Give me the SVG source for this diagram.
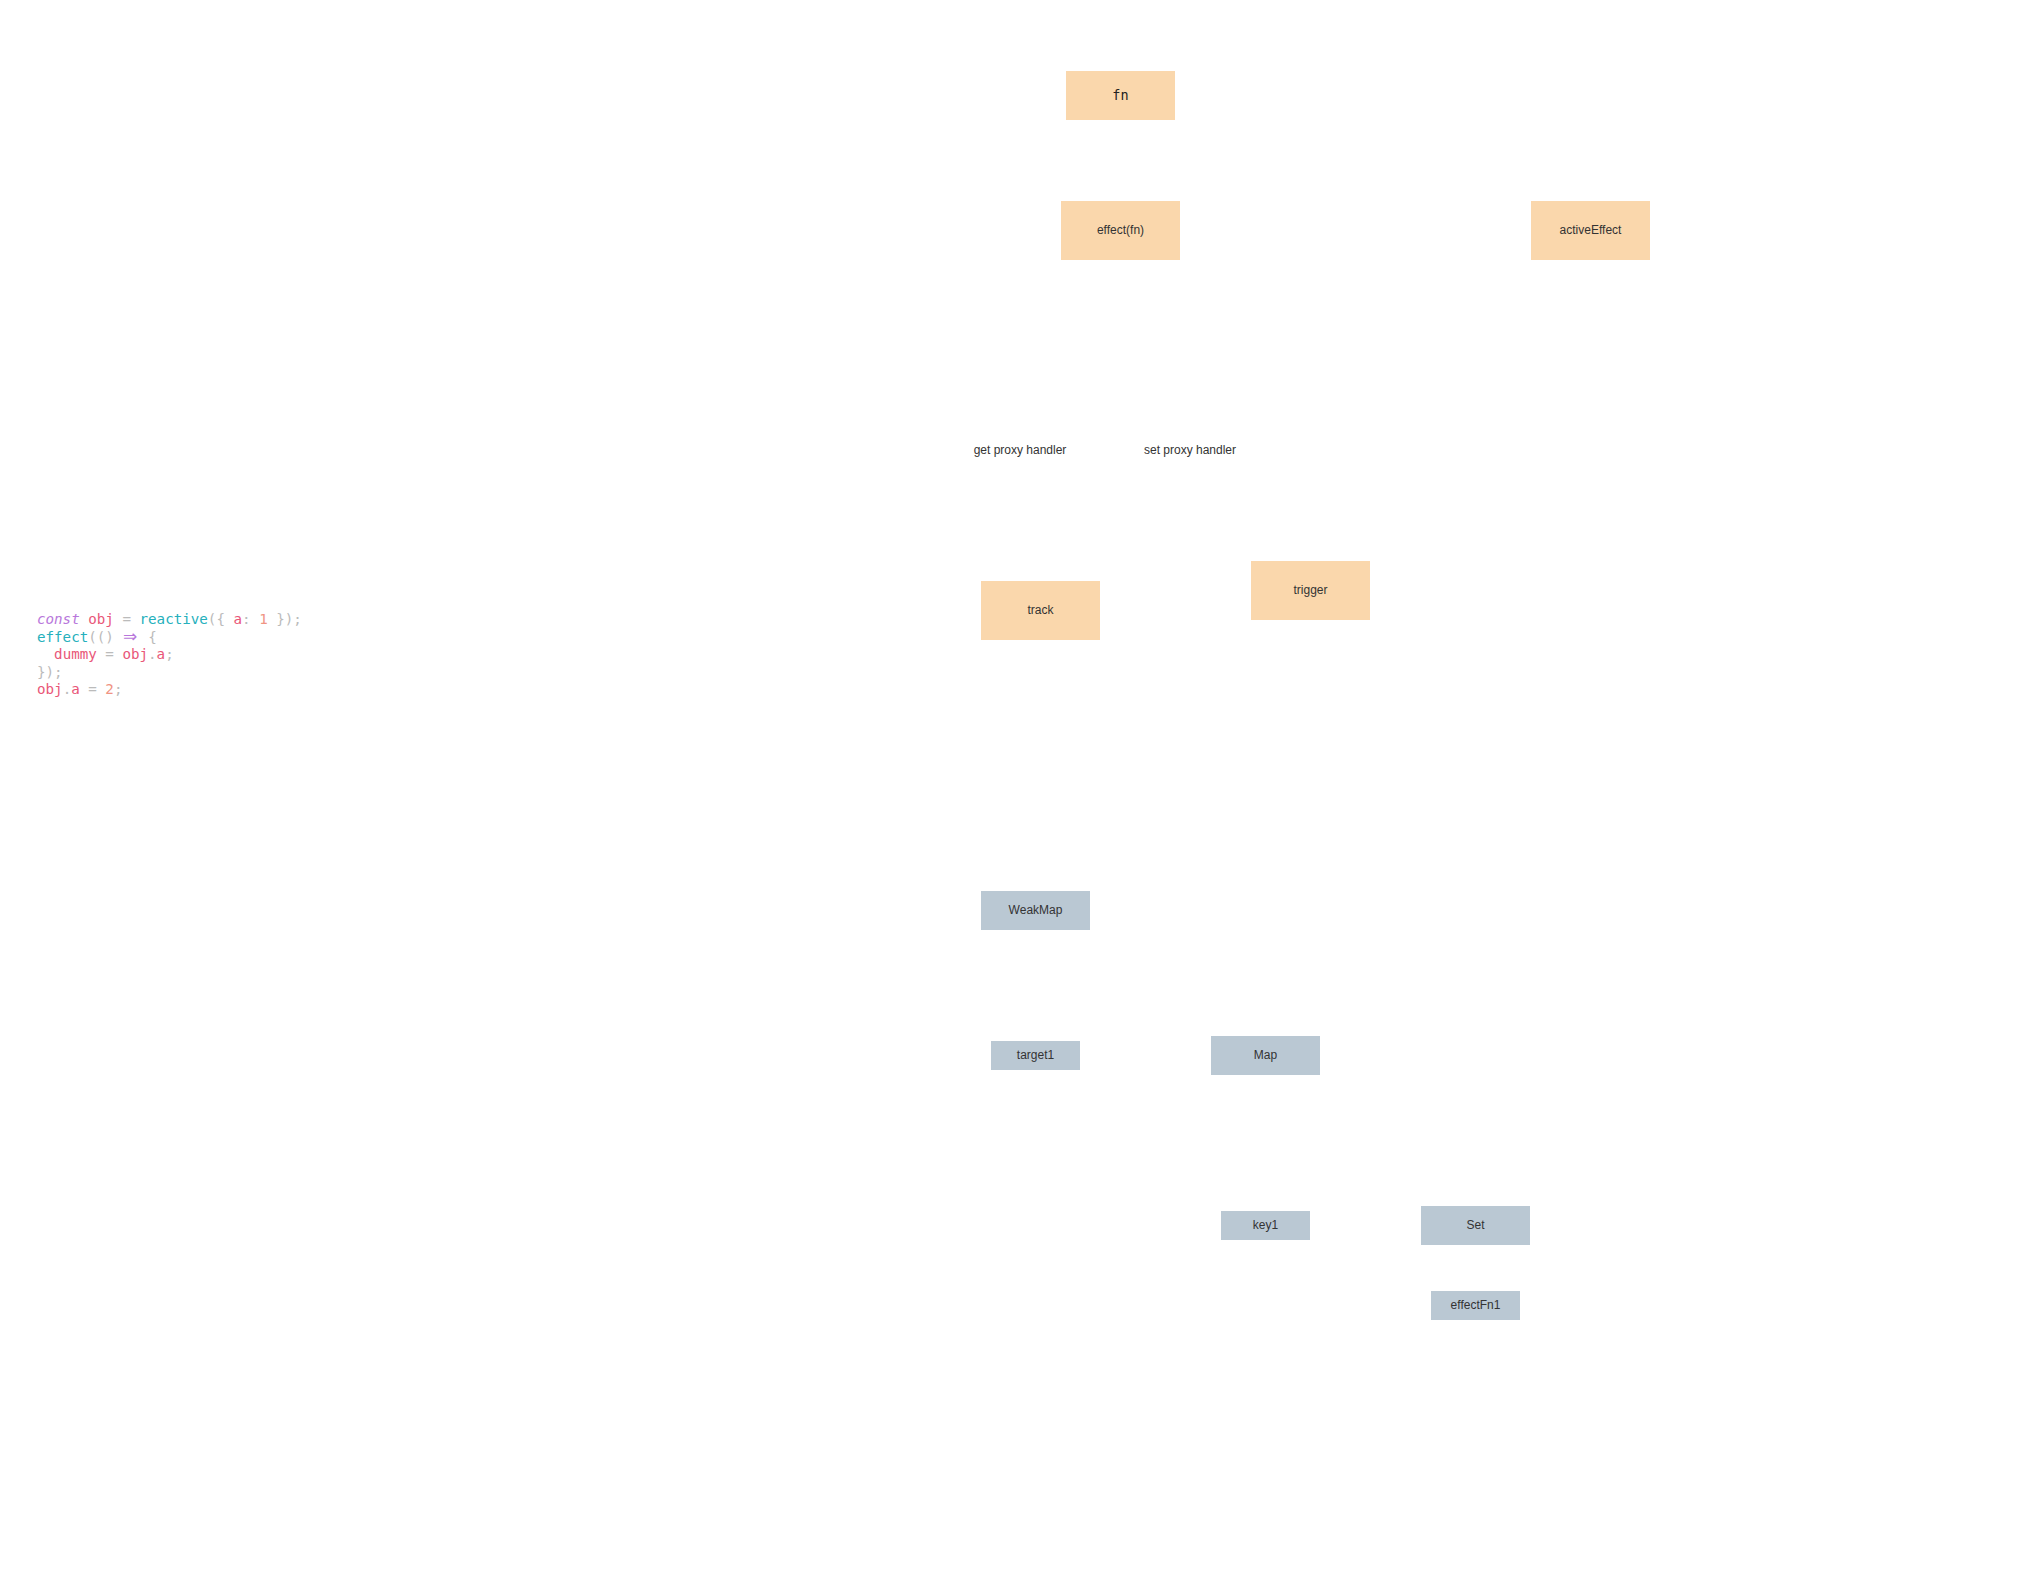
<svg xmlns="http://www.w3.org/2000/svg" width="2021" height="1582" viewBox="0 0 2021 1582">
<style>
.o{fill:#fad7ac}
.g{fill:#bac8d3}
.t{font-family:"Liberation Sans",Arial,sans-serif;font-size:12px;fill:#333;text-anchor:middle}
.mono{font-family:"DejaVu Sans Mono","Liberation Mono",monospace;font-size:13.5px;fill:#222;text-anchor:middle}
.code{font-family:"DejaVu Sans Mono","Liberation Mono",monospace;font-size:14.2px;fill:#bbbbbb}
.r{fill:#e95678}.c{fill:#25b0bc}.p{fill:#b877db}.n{fill:#f09483}
.arr{font-family:"DejaVu Sans",sans-serif;font-size:17px}
</style>
<rect width="2021" height="1582" fill="#ffffff"/>
<g id="code">
<text class="code" x="37" y="624" xml:space="preserve"><tspan class="p" font-style="italic">const</tspan> <tspan class="r">obj</tspan> = <tspan class="c">reactive</tspan>({ <tspan class="r">a</tspan>: <tspan class="n">1</tspan> });</text>
<text class="code" x="37" y="641.5" xml:space="preserve"><tspan class="c">effect</tspan>(() <tspan class="p arr" x="123">⇒</tspan><tspan x="148.2">{</tspan></text>
<text class="code" x="37" y="659" xml:space="preserve">  <tspan class="r">dummy</tspan> = <tspan class="r">obj</tspan>.<tspan class="r">a</tspan>;</text>
<text class="code" x="37" y="676.5" xml:space="preserve">});</text>
<text class="code" x="37" y="694" xml:space="preserve"><tspan class="r">obj</tspan>.<tspan class="r">a</tspan> = <tspan class="n">2</tspan>;</text>
</g>
<g id="connectors"></g>
<g id="fn"><rect class="o" x="1066" y="71" width="109" height="49"/><text class="mono" x="1120.5" y="99.5">fn</text></g>
<g id="effectfn"><rect class="o" x="1061" y="201" width="119" height="59"/><text class="t" x="1120.5" y="233.5">effect(fn)</text></g>
<g id="activeEffect"><rect class="o" x="1531" y="201" width="119" height="59"/><text class="t" x="1590.5" y="233.5">activeEffect</text></g>
<g id="getProxy"><text class="t" x="1020" y="453.5">get proxy handler</text></g>
<g id="setProxy"><text class="t" x="1190" y="453.5">set proxy handler</text></g>
<g id="track"><rect class="o" x="981" y="581" width="119" height="59"/><text class="t" x="1040.5" y="613.5">track</text></g>
<g id="trigger"><rect class="o" x="1251" y="561" width="119" height="59"/><text class="t" x="1310.5" y="593.5">trigger</text></g>
<g id="WeakMap"><rect class="g" x="981" y="891" width="109" height="39"/><text class="t" x="1035.5" y="913.5">WeakMap</text></g>
<g id="target1"><rect class="g" x="991" y="1041" width="89" height="29"/><text class="t" x="1035.5" y="1058.5">target1</text></g>
<g id="Map"><rect class="g" x="1211" y="1036" width="109" height="39"/><text class="t" x="1265.5" y="1058.5">Map</text></g>
<g id="key1"><rect class="g" x="1221" y="1211" width="89" height="29"/><text class="t" x="1265.5" y="1228.5">key1</text></g>
<g id="Set"><rect class="g" x="1421" y="1206" width="109" height="39"/><text class="t" x="1475.5" y="1228.5">Set</text></g>
<g id="effectFn1"><rect class="g" x="1431" y="1291" width="89" height="29"/><text class="t" x="1475.5" y="1308.5">effectFn1</text></g>
</svg>
